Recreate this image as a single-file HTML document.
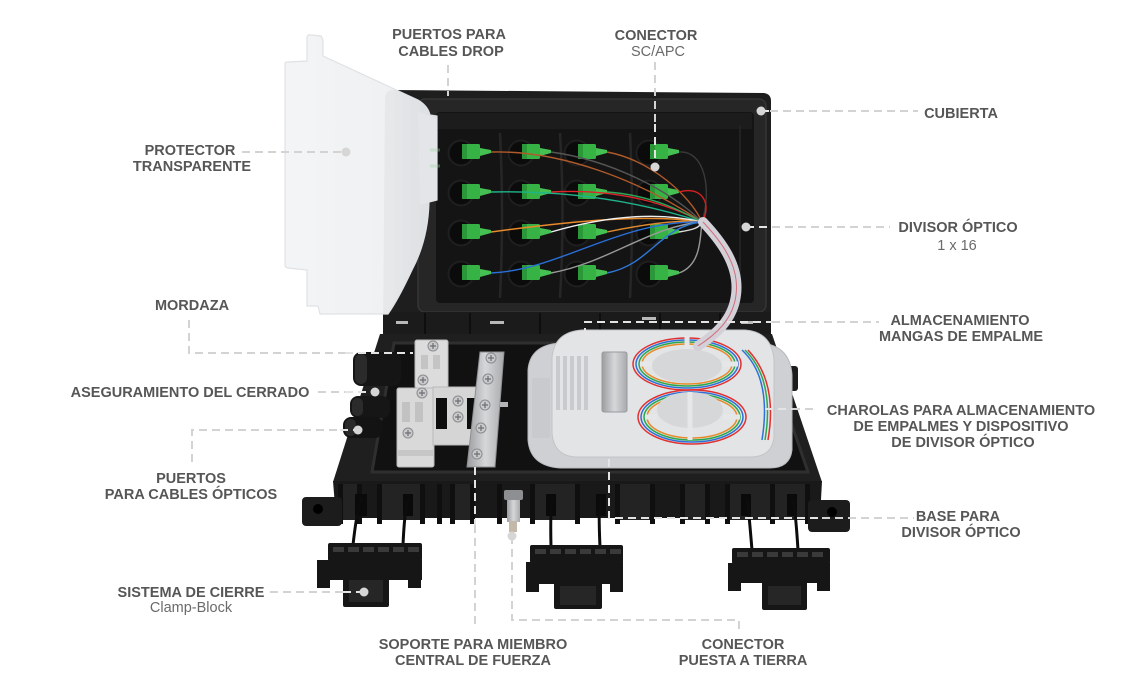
<!DOCTYPE html>
<html><head><meta charset="utf-8"><style>
html,body{margin:0;padding:0;background:#fff;width:1140px;height:695px;overflow:hidden}
svg{display:block}
.b{font-family:"Liberation Sans",Arial,sans-serif;font-weight:bold;font-size:14.5px;fill:#565656}
.r{font-family:"Liberation Sans",Arial,sans-serif;font-size:14.5px;fill:#6a6a6a}
.d{stroke:#d3d3d3;stroke-width:2;stroke-dasharray:8 5;fill:none}
.dw{stroke:#e4e4e4;stroke-width:2;stroke-dasharray:8 5;fill:none}
.f{fill:none;stroke-width:1.4}
</style></head><body>
<svg width="1140" height="695" viewBox="0 0 1140 695" xmlns="http://www.w3.org/2000/svg">
<defs>
  <g id="con">
    <circle cx="-10" cy="1" r="12.5" fill="#0b0b0b" stroke="#1f1f20" stroke-width="2"/>
    <rect x="-9" y="-8" width="18" height="15" rx="1.5" fill="#37b245"/>
    <rect x="-9" y="-8" width="5" height="15" fill="#2a9838"/>
    <polygon points="9,-4 20,-2 20,1 9,4" fill="#45c052"/>
  </g>
  <linearGradient id="lidg" x1="0" y1="0" x2="1" y2="0">
    <stop offset="0" stop-color="#f3f4f6"/>
    <stop offset="0.7" stop-color="#eef0f2"/>
    <stop offset="1" stop-color="#e2e5e8"/>
  </linearGradient>
  <linearGradient id="met" x1="0" y1="0" x2="1" y2="0">
    <stop offset="0" stop-color="#9c9da0"/>
    <stop offset="0.5" stop-color="#d6d7d9"/>
    <stop offset="1" stop-color="#a9aaad"/>
  </linearGradient>
  <g id="screw">
    <circle r="5" fill="#c9cacc" stroke="#8a8b8e" stroke-width="1"/>
    <path d="M-3,0 H3 M0,-3 V3" stroke="#6d6e71" stroke-width="1.2"/>
  </g>
</defs>

<!-- ===== UPPER COVER ===== -->
<path d="M392,90 L764,93 Q771,94 771,101 L771,336 L383,336 L385,98 Q386,90 392,90 Z" fill="#1e1e1f"/>
<rect x="418" y="99" width="348" height="213" rx="7" fill="#262627" stroke="#353536" stroke-width="1.5"/>
<rect x="436" y="112" width="318" height="191" rx="4" fill="#141415"/>
<rect x="438" y="113" width="314" height="16" fill="#1c1c1d"/>
<path d="M740,125 V290" stroke="#222" stroke-width="2"/>
<path d="M500,133 Q504,215 500,298 M560,133 Q565,215 560,298 M630,133 Q634,215 630,298" stroke="#262627" stroke-width="2.5" fill="none"/>

<!-- connectors -->
<use href="#con" x="471" y="152"/><use href="#con" x="531" y="152"/><use href="#con" x="587" y="152"/><use href="#con" x="659" y="152"/>
<use href="#con" x="471" y="192"/><use href="#con" x="531" y="192"/><use href="#con" x="587" y="192"/><use href="#con" x="659" y="192"/>
<use href="#con" x="471" y="232"/><use href="#con" x="531" y="232"/><use href="#con" x="587" y="232"/><use href="#con" x="659" y="232"/>
<use href="#con" x="471" y="273"/><use href="#con" x="531" y="273"/><use href="#con" x="587" y="273"/><use href="#con" x="659" y="273"/>

<!-- fibers -->
<path class="f" stroke="#b05a2a" d="M491,152 C560,150 640,180 702,222"/>
<path class="f" stroke="#555" d="M551,152 C610,160 670,190 702,222"/>
<path class="f" stroke="#b05a2a" d="M607,152 C650,160 690,195 702,222"/>
<path class="f" stroke="#3a3a3a" d="M679,152 C705,150 712,190 702,222"/>
<path class="f" stroke="#1fb58a" d="M491,192 C580,190 650,205 702,222"/>
<path class="f" stroke="#e0242a" d="M551,192 C620,188 670,205 702,222"/>
<path class="f" stroke="#2ca85a" d="M607,192 C650,195 680,210 702,222"/>
<path class="f" stroke="#d92020" d="M679,192 C703,185 712,205 702,222"/>
<path class="f" stroke="#e88a2a" d="M491,232 C580,220 650,214 702,222"/>
<path class="f" stroke="#f0f0f0" d="M551,232 C610,215 660,212 702,222"/>
<path class="f" stroke="#e08a30" d="M607,232 C640,225 680,219 702,222"/>
<path class="f" stroke="#dddddd" d="M679,232 C692,230 700,228 702,222"/>
<path class="f" stroke="#2a6fd8" d="M491,273 C560,270 620,220 702,222"/>
<path class="f" stroke="#9a9a9a" d="M551,273 C610,262 650,226 702,222"/>
<path class="f" stroke="#2f78d8" d="M607,273 C650,265 660,226 702,222"/>
<path class="f" stroke="#999" d="M679,273 C702,265 700,235 702,222"/>

<!-- hinge strip -->
<rect x="383" y="312" width="388" height="24" fill="#1b1b1c"/>
<path d="M425,313 V335 M470,313 V335 M540,313 V335 M600,313 V335 M660,313 V335 M720,313 V335" stroke="#0e0e0e" stroke-width="2"/>
<rect x="396" y="321" width="12" height="3" fill="#b8b8b8"/>
<rect x="490" y="321" width="14" height="3" fill="#b8b8b8"/>
<rect x="642" y="317" width="14" height="3" fill="#b8b8b8"/>
<rect x="741" y="321" width="12" height="3" fill="#b8b8b8"/>

<!-- ===== BASE ===== -->
<polygon points="380,334 772,334 822,482 333,482" fill="#1f1f20"/>
<polygon points="394,343 764,343 808,472 372,472" fill="#111112" stroke="#2f2f30" stroke-width="3"/>
<polygon points="333,481 822,481 820,518 336,518" fill="#19191a"/>
<g fill="#0f0f10">
  <rect x="338" y="484" width="5" height="40"/><rect x="357" y="484" width="5" height="40"/><rect x="377" y="484" width="5" height="40"/>
  <rect x="420" y="484" width="5" height="40"/><rect x="437" y="484" width="5" height="40"/><rect x="450" y="484" width="5" height="40"/>
  <rect x="470" y="484" width="5" height="40"/><rect x="497" y="484" width="5" height="40"/><rect x="530" y="484" width="5" height="40"/>
  <rect x="575" y="484" width="5" height="40"/><rect x="615" y="484" width="5" height="40"/><rect x="650" y="484" width="5" height="40"/>
  <rect x="680" y="484" width="5" height="40"/><rect x="705" y="484" width="5" height="40"/><rect x="725" y="484" width="5" height="40"/>
  <rect x="770" y="484" width="5" height="40"/><rect x="805" y="484" width="5" height="40"/>
</g>
<g fill="#232324">
  <rect x="343" y="484" width="14" height="36"/><rect x="382" y="484" width="38" height="36"/><rect x="455" y="484" width="15" height="36"/>
  <rect x="535" y="484" width="40" height="36"/><rect x="620" y="484" width="30" height="36"/><rect x="685" y="484" width="20" height="36"/>
  <rect x="730" y="484" width="40" height="36"/><rect x="775" y="484" width="30" height="36"/>
</g>
<!-- slots -->
<g fill="#0a0a0a">
  <rect x="355" y="494" width="12" height="22"/><rect x="403" y="494" width="10" height="22"/>
  <rect x="546" y="494" width="10" height="22"/><rect x="596" y="494" width="10" height="22"/>
  <rect x="741" y="494" width="10" height="22"/><rect x="787" y="494" width="10" height="22"/>
</g>
<!-- ears -->
<rect x="302" y="497" width="40" height="29" rx="4" fill="#1c1c1d"/>
<circle cx="318" cy="509" r="5" fill="#000"/>
<rect x="808" y="500" width="42" height="32" rx="4" fill="#1c1c1d"/>
<circle cx="832" cy="512" r="5" fill="#000"/>
<rect x="779" y="366" width="19" height="25" rx="3" fill="#1c1c1d"/>
<circle cx="789" cy="375" r="3" fill="#000"/>

<!-- left port cylinders -->
<rect x="353" y="352" width="48" height="34" rx="8" fill="#151516"/>
<rect x="355" y="354" width="12" height="30" rx="6" fill="#2b2b2c"/>
<rect x="350" y="396" width="40" height="22" rx="8" fill="#161617"/>
<rect x="352" y="398" width="11" height="18" rx="5" fill="#2b2b2c"/>
<rect x="343" y="417" width="40" height="21" rx="8" fill="#131314"/>
<rect x="345" y="419" width="11" height="17" rx="5" fill="#2a2a2b"/>

<!-- grey clamp blocks -->
<rect x="415" y="340" width="33" height="48" rx="2" fill="#dcdcdc" stroke="#b9b9b9"/>
<rect x="421" y="355" width="7" height="14" fill="#c4c4c4"/><rect x="433" y="355" width="7" height="14" fill="#c4c4c4"/>
<rect x="397" y="388" width="37" height="79" rx="2" fill="#d9d9d9" stroke="#b9b9b9"/>
<rect x="402" y="402" width="8" height="20" fill="#c2c2c2"/><rect x="415" y="402" width="8" height="20" fill="#c2c2c2"/>
<rect x="398" y="450" width="35" height="6" fill="#c6c6c6"/>
<rect x="433" y="387" width="44" height="58" fill="#d5d5d5" stroke="#b9b9b9"/>
<rect x="436" y="398" width="11" height="31" fill="#0d0d0d"/>
<rect x="467" y="398" width="9" height="31" fill="#0d0d0d"/>
<use href="#screw" x="433" y="346"/><use href="#screw" x="423" y="380"/>
<use href="#screw" x="422" y="393"/><use href="#screw" x="408" y="433"/>
<use href="#screw" x="458" y="401"/><use href="#screw" x="458" y="417"/>

<!-- metal strength-member bar -->
<polygon points="480,352 504,352 495,467 467,467" fill="url(#met)" stroke="#8d8e91"/>
<rect x="500" y="402" width="8" height="5" fill="#b4b5b8"/>
<use href="#screw" x="491" y="358"/><use href="#screw" x="488" y="379"/>
<use href="#screw" x="485" y="405"/><use href="#screw" x="481" y="428"/><use href="#screw" x="477" y="454"/>

<!-- splice tray -->
<path d="M560,343 L760,343 Q790,345 792,375 L792,450 Q790,468 770,468 L560,468 Q530,466 528,440 L528,370 Q530,345 560,343 Z" fill="#cfd0d3" stroke="#b8b9bc"/>
<path d="M582,330 L745,330 Q772,332 774,360 L774,437 Q772,457 750,457 L575,457 Q552,455 552,430 L552,358 Q554,332 582,330 Z" fill="#e3e4e6" stroke="#c3c4c7"/>
<g fill="#c9cacd">
  <rect x="532" y="378" width="18" height="60" rx="2"/>
  <rect x="556" y="356" width="4" height="54"/><rect x="563" y="356" width="4" height="54"/><rect x="570" y="356" width="4" height="54"/>
  <rect x="577" y="356" width="4" height="54"/><rect x="584" y="356" width="4" height="54"/>
</g>
<rect x="602" y="352" width="25" height="60" rx="2" fill="url(#met)" stroke="#999a9d"/>
<!-- fiber loops -->
<g fill="none" stroke-width="1.5">
  <ellipse cx="687" cy="364" rx="54" ry="26" stroke="#e23030"/>
  <ellipse cx="687" cy="364" rx="51" ry="24" stroke="#2f6fd8"/>
  <ellipse cx="687" cy="364" rx="48" ry="22" stroke="#2aa84f"/>
  <ellipse cx="687" cy="364" rx="45" ry="20" stroke="#e88a2a"/>
  <ellipse cx="692" cy="417" rx="54" ry="27" stroke="#e23030"/>
  <ellipse cx="692" cy="417" rx="51" ry="25" stroke="#2f6fd8"/>
  <ellipse cx="692" cy="417" rx="48" ry="23" stroke="#2aa84f"/>
  <ellipse cx="692" cy="417" rx="45" ry="21" stroke="#e88a2a"/>
  <path d="M745,350 Q775,380 765,440" stroke="#2aa84f"/>
  <path d="M748,350 Q778,382 768,440" stroke="#e23030"/>
  <path d="M742,350 Q772,378 762,440" stroke="#2f6fd8"/>
</g>
<ellipse cx="687" cy="366" rx="35" ry="17" fill="#d6d7d9"/>
<ellipse cx="690" cy="410" rx="33" ry="18" fill="#d6d7d9"/>
<g stroke="#e6e7e9" stroke-width="5">
  <path d="M687,336 V349 M640,364 H652 M722,364 H738 M690,392 V440 M645,417 H657 M723,417 H740"/>
</g>

<!-- fiber tube -->
<path d="M703,222 C720,240 740,265 736,295 C733,320 715,335 698,346" fill="none" stroke="#d3d0d8" stroke-width="10" stroke-linecap="round"/>
<path d="M703,222 C720,240 740,265 736,295 C733,320 715,335 698,346" fill="none" stroke="#d0707c" stroke-width="1"/>

<!-- ground connector -->
<rect x="504" y="490" width="19" height="10" rx="2" fill="#8e8f92"/>
<rect x="507" y="500" width="13" height="22" fill="url(#met)"/>
<rect x="509" y="521" width="8" height="11" fill="#c4b9a8"/>

<!-- straps -->
<g stroke="#0c0c0c" stroke-width="3" fill="none">
  <path d="M363,498 Q358,500 353,545"/><path d="M410,498 Q405,500 403,545"/>
  <path d="M553,498 Q550,502 551,547"/><path d="M601,498 Q598,502 600,547"/>
  <path d="M747,498 Q748,502 752,550"/><path d="M792,498 Q795,502 798,550"/>
</g>

<!-- clamp blocks -->
<g fill="#161617">
  <rect x="328" y="543" width="94" height="18" rx="2"/><rect x="317" y="560" width="105" height="20"/>
  <rect x="317" y="578" width="13" height="10"/><rect x="408" y="578" width="13" height="10"/>
  <rect x="343" y="568" width="46" height="39" rx="2"/>
  <rect x="530" y="545" width="93" height="18" rx="2"/><rect x="526" y="562" width="97" height="22"/>
  <rect x="526" y="582" width="13" height="10"/><rect x="610" y="582" width="13" height="10"/>
  <rect x="554" y="574" width="48" height="35" rx="2"/>
  <rect x="732" y="548" width="98" height="16" rx="2"/><rect x="728" y="563" width="102" height="20"/>
  <rect x="728" y="581" width="13" height="10"/><rect x="817" y="581" width="13" height="10"/>
  <rect x="762" y="574" width="45" height="36" rx="2"/>
</g>
<g fill="#3a3a3b">
  <rect x="333" y="547" width="11" height="5"/><rect x="348" y="547" width="11" height="5"/><rect x="363" y="547" width="11" height="5"/><rect x="378" y="547" width="11" height="5"/><rect x="393" y="547" width="11" height="5"/><rect x="408" y="547" width="11" height="5"/>
  <rect x="535" y="549" width="11" height="5"/><rect x="550" y="549" width="11" height="5"/><rect x="565" y="549" width="11" height="5"/><rect x="580" y="549" width="11" height="5"/><rect x="595" y="549" width="11" height="5"/><rect x="610" y="549" width="11" height="5"/>
  <rect x="737" y="552" width="11" height="5"/><rect x="752" y="552" width="11" height="5"/><rect x="767" y="552" width="11" height="5"/><rect x="782" y="552" width="11" height="5"/><rect x="797" y="552" width="11" height="5"/><rect x="812" y="552" width="11" height="5"/>
</g>
<g fill="#262627">
  <rect x="349" y="580" width="34" height="22"/><rect x="560" y="586" width="36" height="19"/><rect x="768" y="586" width="33" height="19"/>
</g>

<!-- protector lid -->
<path d="M285,64 Q285,62 288,62 L307,61 L307,37 Q308,34 311,35 L321,36 L323,40 L323,56 L418,100 Q428,106 430,115 L437,116 L437,200 L429,202 Q428,240 412,270 Q398,300 388,314 L320,314 L318,306 L307,306 L307,270 L288,268 Q285,268 285,264 Z" fill="url(#lidg)" fill-opacity="0.96" stroke="#dfe2e5" stroke-width="1.2"/>
<path d="M418,112 L437,118 L437,200 L420,205 Z" fill="#e4e6e9" opacity="0.9"/>
<path d="M430,150 H440 M430,166 H440" stroke="#9fd3a6" stroke-width="3" opacity="0.35"/>

<!-- ===== LEADER LINES ===== -->
<path class="d" d="M448,65 V96"/>
<path class="d" d="M655,62 V124"/><path class="dw" d="M655,124 V167"/>
<path class="d" d="M242,152 H346"/>
<path class="d" d="M770,111 H918"/><path class="dw" d="M761,111 H770"/>
<path class="d" d="M772,227 H890"/><path class="dw" d="M746,227 H772"/>
<path class="d" d="M189,320 V353 H345"/><path class="dw" d="M345,353 H413"/>
<path class="d" d="M772,322 H879"/><path class="dw" d="M585,336 V322 H772"/>
<path class="d" d="M318,392 H345"/><path class="dw" d="M345,392 H375"/>
<path class="d" d="M192,462 V430 H340"/><path class="dw" d="M340,430 H358"/>
<path class="d" d="M792,409 H815"/><path class="dw" d="M752,409 H792"/>
<path class="dw" d="M609,446 V518 H822"/><path class="d" d="M822,518 H914"/>
<path class="d" d="M270,592 H343"/><path class="dw" d="M343,592 H364"/>
<path class="dw" d="M475,467 V525"/><path class="d" d="M475,525 V628"/>
<path class="d" d="M512,536 V620 H739 V632"/>

<g fill="#d6d6d6">
  <circle cx="655" cy="167" r="4.5"/><circle cx="346" cy="152" r="4.5"/>
  <circle cx="761" cy="111" r="4.5"/><circle cx="746" cy="227" r="4.5"/>
  <circle cx="375" cy="392" r="4.5"/><circle cx="358" cy="430" r="4.5"/>
  <circle cx="364" cy="592" r="4.5"/><circle cx="512" cy="536" r="4.5"/>
</g>

<!-- ===== LABELS ===== -->
<g text-anchor="middle">
  <text class="b" x="449" y="39">PUERTOS PARA</text>
  <text class="b" x="451" y="56">CABLES DROP</text>
  <text class="b" x="656" y="40">CONECTOR</text>
  <text class="r" x="658" y="56">SC/APC</text>
  <text class="b" x="190" y="155">PROTECTOR</text>
  <text class="b" x="192" y="171">TRANSPARENTE</text>
  <text class="b" x="961" y="118">CUBIERTA</text>
  <text class="b" x="958" y="232">DIVISOR ÓPTICO</text>
  <text class="r" x="957" y="250">1 x 16</text>
  <text class="b" x="192" y="310">MORDAZA</text>
  <text class="b" x="960" y="325">ALMACENAMIENTO</text>
  <text class="b" x="961" y="341">MANGAS DE EMPALME</text>
  <text class="b" x="190" y="397">ASEGURAMIENTO DEL CERRADO</text>
  <text class="b" x="961" y="415">CHAROLAS PARA ALMACENAMIENTO</text>
  <text class="b" x="961" y="431">DE EMPALMES Y DISPOSITIVO</text>
  <text class="b" x="963" y="447">DE DIVISOR ÓPTICO</text>
  <text class="b" x="191" y="483">PUERTOS</text>
  <text class="b" x="191" y="499">PARA CABLES ÓPTICOS</text>
  <text class="b" x="958" y="521">BASE PARA</text>
  <text class="b" x="961" y="537">DIVISOR ÓPTICO</text>
  <text class="b" x="191" y="597">SISTEMA DE CIERRE</text>
  <text class="r" x="191" y="612">Clamp-Block</text>
  <text class="b" x="473" y="649">SOPORTE PARA MIEMBRO</text>
  <text class="b" x="473" y="665">CENTRAL DE FUERZA</text>
  <text class="b" x="743" y="649">CONECTOR</text>
  <text class="b" x="743" y="665">PUESTA A TIERRA</text>
</g>
</svg>
</body></html>
